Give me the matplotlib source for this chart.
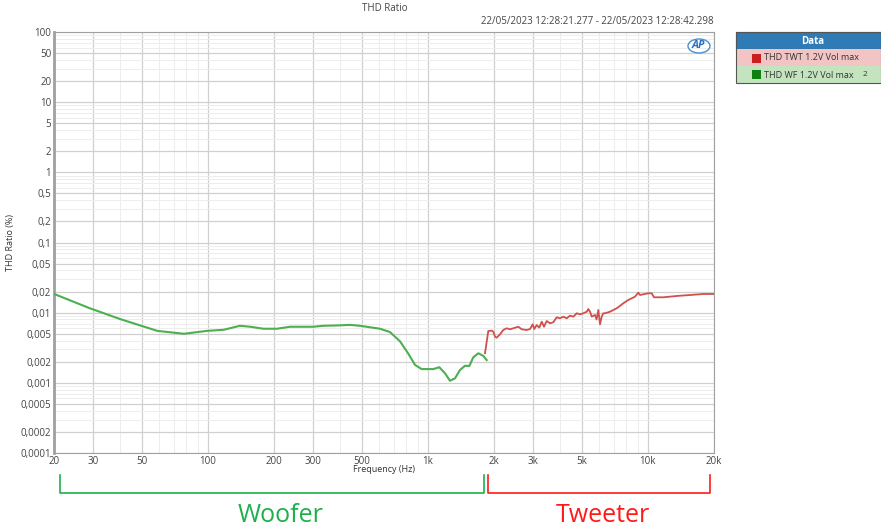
import numpy as np
import matplotlib.pyplot as plt
from matplotlib.patches import Rectangle, Ellipse

# Woofer (green) data
wf_freq = [20, 29, 40, 59, 78, 99, 118, 140, 156, 179, 206, 237, 302, 335, 400, 443, 492,
           607, 673, 748, 816, 875, 938, 1060, 1128, 1197, 1262, 1330, 1400, 1476, 1545,
           1610, 1698, 1788, 1853]
wf_thd = [0.0185, 0.0116, 0.0081, 0.0055, 0.0050, 0.0055, 0.0057, 0.0065, 0.0063, 0.0059,
          0.0059, 0.0063, 0.0063, 0.0065, 0.0066, 0.0067, 0.0065,
          0.0059, 0.0053, 0.0039, 0.0026, 0.0018, 0.00157, 0.00157, 0.00167, 0.00137,
          0.00107, 0.00116, 0.00152, 0.00175, 0.00174, 0.00231, 0.00264, 0.00242, 0.00211]

# Tweeter (red) data
tw_freq = [1820, 1884, 1952, 1985, 2021, 2057, 2130, 2205, 2284, 2365, 2448, 2580, 2672,
           2816, 2916, 2998, 3049, 3127, 3212, 3296, 3376, 3472, 3594, 3720, 3855, 3990,
           4130, 4280, 4432, 4588, 4754, 4920, 5094, 5278, 5366, 5464, 5562, 5756, 5850,
           5960, 6066, 6174, 6278, 6392, 6736, 7224, 7740, 8158, 8750, 9058, 9220, 10056,
           10420, 10674, 11764, 13538, 15562, 17884, 20000]
tw_thd = [0.00264, 0.00548, 0.00554, 0.00536, 0.00455, 0.0044, 0.00492, 0.00567, 0.00599,
          0.0058, 0.00599, 0.00631, 0.0058, 0.00567, 0.00585, 0.00683, 0.00585, 0.00667,
          0.00611, 0.00744, 0.00631, 0.00761, 0.00706, 0.00729, 0.00859, 0.00832, 0.00877,
          0.00832, 0.00906, 0.00877, 0.0098, 0.00948, 0.0098, 0.01032, 0.01128, 0.01032,
          0.00877, 0.00927, 0.0080, 0.01092, 0.00683, 0.00877, 0.0098, 0.0098, 0.01032,
          0.01154, 0.0136, 0.01517, 0.0169, 0.01927, 0.01786, 0.01889, 0.01889, 0.01656,
          0.01656, 0.01729, 0.01786, 0.01845, 0.01845]

x_ticks = [20, 30, 50, 100, 200, 300, 500, 1000, 2000, 3000, 5000, 10000, 20000]
x_labels = ["20", "30", "50", "100", "200", "300", "500", "1k", "2k", "3k", "5k", "10k", "20k"]
y_ticks = [100, 50, 20, 10, 5, 2, 1, 0.5, 0.2, 0.1, 0.05, 0.02, 0.01, 0.005, 0.002,
           0.001, 0.0005, 0.0002, 0.0001]
y_labels = ["100", "50", "20", "10", "5", "2", "1", "0,5", "0,2", "0,1", "0,05", "0,02",
            "0,01", "0,005", "0,002", "0,001", "0,0005", "0,0002", "0,0001"]

plt.rcParams["font.family"] = ["Open Sans", "DejaVu Sans"]
fig = plt.figure(figsize=(8.81, 5.29), dpi=100)
ax = fig.add_axes([54 / 881, 1 - 453 / 529, 660 / 881, 421 / 529])

ax.plot(wf_freq, wf_thd, color="#4caf50", lw=1.5, zorder=3)
ax.plot(tw_freq, tw_thd, color="#d0504c", lw=1.3, zorder=3)

ax.set_xscale("log")
ax.set_yscale("log")
ax.set_xlim(20, 20000)
ax.set_ylim(0.0001, 100)
ax.set_xticks(x_ticks)
ax.set_xticklabels(x_labels)
ax.set_yticks(y_ticks)
ax.set_yticklabels(y_labels)
ax.tick_params(axis="both", which="both", length=0, labelsize=7, colors="#444444", pad=2)
ax.grid(True, which="major", color="#d0d0d0", lw=0.9)
ax.grid(True, which="minor", color="#ededed", lw=0.7)
for s in ax.spines.values():
    s.set_color("#a0a0a0")
ax.spines["left"].set_linewidth(2)

ax.set_xlabel("Frequency (Hz)", fontsize=6.5, labelpad=-1, color="#333333")
ax.set_ylabel("THD Ratio (%)", fontsize=6.5, labelpad=4, color="#333333")

fig.text(385 / 881, 1 - 14 / 529, "THD Ratio", fontsize=7, ha="center", va="bottom", color="#444444")
fig.text(714 / 881, 1 - 22 / 529, "22/05/2023 12:28:21.277 - 22/05/2023 12:28:42.298",
         fontsize=7, ha="right", va="center", color="#444444")

# AP logo
fig.patches.append(Ellipse((699 / 881, 1 - 46 / 529), 22 / 881, 14 / 529,
                           transform=fig.transFigure, fill=False, ec="#4a90d0", lw=1))
fig.text(698 / 881, 1 - 46 / 529, "AP", fontsize=8, fontweight="bold", style="italic",
         color="#2a70c0", ha="center", va="center")

# legend box
x0, x1 = 736 / 881, 1.0
fig.patches.append(Rectangle((x0, 1 - 49 / 529), x1 - x0, 17 / 529, transform=fig.transFigure,
                             fc="#2e7bb5", ec="#555555", lw=0.8))
fig.patches.append(Rectangle((x0, 1 - 66 / 529), x1 - x0, 17 / 529, transform=fig.transFigure,
                             fc="#f2c4c4", ec="none"))
fig.patches.append(Rectangle((x0, 1 - 83 / 529), x1 - x0, 17 / 529, transform=fig.transFigure,
                             fc="#c4e4c0", ec="none"))
fig.patches.append(Rectangle((x0, 1 - 83 / 529), x1 - x0, 51 / 529, transform=fig.transFigure,
                             fill=False, ec="#555555", lw=0.8))
fig.text(813 / 881, 1 - 41 / 529, "Data", fontsize=7, fontweight="bold", color="white",
         ha="center", va="center")
fig.patches.append(Rectangle((752 / 881, 1 - 63 / 529), 9 / 881, 9 / 529, transform=fig.transFigure,
                             fc="#c82020", ec="none"))
fig.patches.append(Rectangle((752 / 881, 1 - 79 / 529), 9 / 881, 9 / 529, transform=fig.transFigure,
                             fc="#108010", ec="none"))
fig.text(764 / 881, 1 - 58 / 529, "THD TWT 1.2V Vol max", fontsize=6.5, color="#333333", va="center")
fig.text(764 / 881, 1 - 75 / 529, "THD WF 1.2V Vol max", fontsize=6.5, color="#333333", va="center")
fig.text(863 / 881, 1 - 75 / 529, "2", fontsize=6, color="#333333", va="center")

# brackets
def bracket(xa, xb, color):
    xs = [xa / 881, xa / 881, xb / 881, xb / 881]
    ys = [1 - 475 / 529, 1 - 493 / 529, 1 - 493 / 529, 1 - 475 / 529]
    fig.add_artist(plt.Line2D(xs, ys, color=color, lw=1.2, transform=fig.transFigure))

bracket(60, 484, "#1db04a")
bracket(488, 710, "#ff1a1a")
fig.text(281 / 881, 1 - 516 / 529, "Woofer", fontsize=18, color="#1db04a", ha="center", va="center")
fig.text(603 / 881, 1 - 516 / 529, "Tweeter", fontsize=18, color="#ff1a1a", ha="center", va="center")

fig.savefig("out.png", dpi=100)
